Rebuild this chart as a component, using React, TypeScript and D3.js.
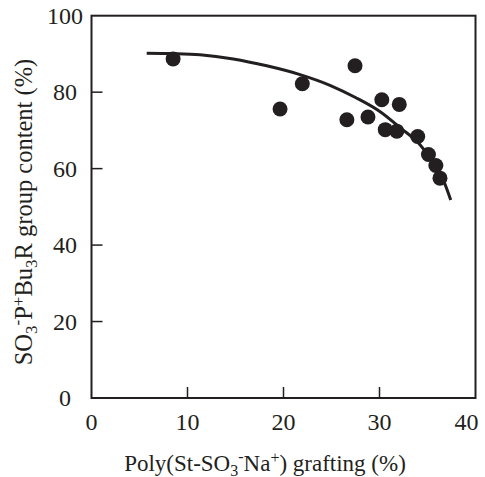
import React from "react";
import * as d3 from "d3";

const pointX = [8.5, 21.96, 19.64, 27.45, 26.6, 28.8, 30.24, 32.06, 30.6, 31.8, 33.98, 35.1, 35.87, 36.3];
const pointY = [88.7, 82.2, 75.6, 86.9, 72.8, 73.5, 78.0, 76.8, 70.2, 69.8, 68.4, 63.7, 60.8, 57.5];

const curveX = [5.75, 8.5, 11.3, 14.77, 18.25, 21.72, 24.84, 27.5, 30.0, 32.1, 34.2, 35.6, 36.65, 37.42];
const curveY = [90.2, 90.1, 89.8, 88.7, 86.9, 84.6, 81.8, 78.6, 75.0, 70.8, 66.3, 61.6, 57.0, 51.8];

const xTicks = [0, 10, 20, 30, 40];
const yTicks = [0, 20, 40, 60, 80, 100];

const W = 485;
const H = 477;
const INK = "#231f20";
const FONT = "'Liberation Serif', 'Times New Roman', Times, serif";

export default function App() {
  const x = d3.scaleLinear().domain([0, 40]).range([91.5, 475.5]);
  const y = d3.scaleLinear().domain([0, 100]).range([398, 15.7]);

  const line = d3
    .line<number>()
    .x((_, i) => x(curveX[i]))
    .y((_, i) => y(curveY[i]))
    .curve(d3.curveMonotoneX);

  const x0 = x(0), x1 = x(40), y0 = y(0), y1 = y(100);

  return (
    <svg
      width={W}
      height={H}
      style={{ position: "absolute", left: 0, top: 0, background: "#fff" }}
      fontFamily={FONT}
    >
      <rect x={0} y={0} width={W} height={H} fill="#fff" />
      <rect x={x0} y={y1} width={x1 - x0} height={y0 - y1} fill="none" stroke={INK} strokeWidth={2} />
      {xTicks.slice(1, -1).map((t) => (
        <line key={"xt" + t} x1={x(t)} x2={x(t)} y1={y0} y2={y0 - 11} stroke={INK} strokeWidth={1.5} />
      ))}
      {yTicks.slice(1, -1).map((t) => (
        <line key={"yt" + t} x1={x0} x2={x0 + 11} y1={y(t)} y2={y(t)} stroke={INK} strokeWidth={1.5} />
      ))}
      {xTicks.map((t) => (
        <text key={"xl" + t} x={x(t) - (t === 40 ? 9 : 0)} y={430} fontSize={24} textAnchor="middle" fill={INK}>
          {t}
        </text>
      ))}
      {yTicks.map((t) => (
        <text key={"yl" + t} x={65} y={y(t) + 8} fontSize={24} textAnchor="middle" fill={INK}>
          {t}
        </text>
      ))}
      <path d={line(curveX) || ""} fill="none" stroke={INK} strokeWidth={3} />
      {pointX.map((px, i) => (
        <circle key={"p" + i} cx={x(px)} cy={y(pointY[i])} r={7.5} fill={INK} />
      ))}
      <text x={265} y={471} fontSize={23} textAnchor="middle" fill={INK}>
        Poly(St-SO
        <tspan fontSize={16} dy={5}>3</tspan>
        <tspan fontSize={16} dy={-14}>-</tspan>
        <tspan dy={9}>Na</tspan>
        <tspan fontSize={16} dy={-8}>+</tspan>
        <tspan dy={8}>) grafting (%)</tspan>
      </text>
      <text
        transform={`translate(32,212) rotate(-90)`}
        fontSize={24.5}
        textAnchor="middle"
        fill={INK}
      >
        SO
        <tspan fontSize={17} dy={5}>3</tspan>
        <tspan fontSize={17} dy={-14}>-</tspan>
        <tspan dy={9}>P</tspan>
        <tspan fontSize={17} dy={-8}>+</tspan>
        <tspan dy={8}>Bu</tspan>
        <tspan fontSize={17} dy={5}>3</tspan>
        <tspan dy={-5}>R group content (%)</tspan>
      </text>
    </svg>
  );
}
